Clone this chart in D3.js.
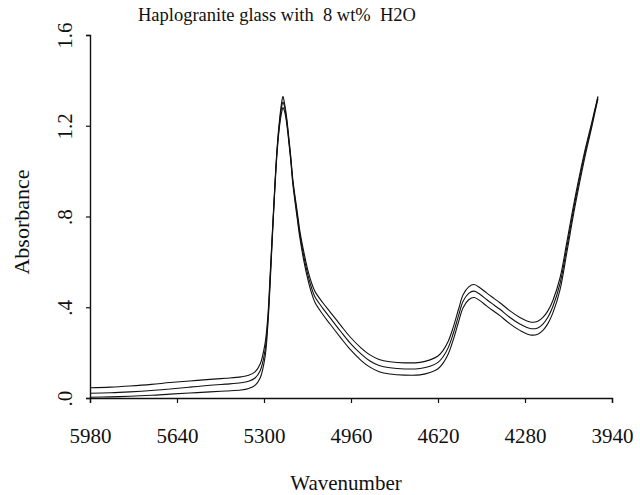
<!DOCTYPE html>
<html>
<head>
<meta charset="utf-8">
<script src="https://cdn.jsdelivr.net/npm/d3@7"></script>
<style>
  html, body { margin: 0; padding: 0; background: #fff; }
  svg { display: block; }
  svg text { font-family: "Liberation Serif", "DejaVu Serif", serif; fill: #111; }
</style>
</head>
<body>
<svg id="chart" width="640" height="495"></svg>
<script>
const wavenumbers = [5980, 5900, 5824, 5740, 5667, 5590, 5511, 5450, 5390, 5360, 5335, 5315, 5296, 5285, 5277, 5265, 5249, 5238, 5230, 5226, 5220, 5212, 5206, 5195, 5187, 5170, 5159, 5140, 5128, 5115, 5101, 5070, 5042, 5000, 4964, 4920, 4886, 4850, 4808, 4750, 4690, 4651, 4620, 4600, 4580, 4561, 4540, 4522, 4500, 4479, 4455, 4429, 4400, 4378, 4340, 4300, 4260, 4230, 4210, 4190, 4171, 4143, 4116, 4085, 4046, 4020, 3995];

const absorbanceTop = [0.045, 0.048, 0.053, 0.060, 0.068, 0.075, 0.082, 0.087, 0.093, 0.100, 0.115, 0.150, 0.240, 0.360, 0.520, 0.780, 1.100, 1.240, 1.310, 1.330, 1.300, 1.240, 1.180, 1.060, 0.960, 0.820, 0.730, 0.620, 0.560, 0.510, 0.470, 0.420, 0.380, 0.320, 0.270, 0.220, 0.190, 0.170, 0.160, 0.155, 0.157, 0.168, 0.185, 0.210, 0.250, 0.310, 0.390, 0.455, 0.490, 0.500, 0.485, 0.462, 0.438, 0.420, 0.385, 0.355, 0.335, 0.338, 0.355, 0.385, 0.430, 0.530, 0.690, 0.880, 1.090, 1.210, 1.330];

const absorbanceMid = [0.021, 0.023, 0.027, 0.033, 0.040, 0.048, 0.056, 0.061, 0.067, 0.074, 0.088, 0.120, 0.210, 0.340, 0.500, 0.770, 1.090, 1.225, 1.290, 1.305, 1.285, 1.230, 1.170, 1.050, 0.950, 0.805, 0.715, 0.600, 0.540, 0.488, 0.446, 0.395, 0.354, 0.293, 0.243, 0.193, 0.163, 0.143, 0.133, 0.128, 0.130, 0.140, 0.157, 0.182, 0.222, 0.282, 0.362, 0.426, 0.461, 0.471, 0.456, 0.433, 0.409, 0.391, 0.356, 0.326, 0.306, 0.309, 0.326, 0.357, 0.403, 0.505, 0.668, 0.862, 1.077, 1.200, 1.325];

const absorbanceBottom = [0.003, 0.005, 0.008, 0.012, 0.017, 0.022, 0.027, 0.031, 0.035, 0.042, 0.056, 0.088, 0.180, 0.320, 0.480, 0.760, 1.080, 1.210, 1.265, 1.280, 1.265, 1.215, 1.160, 1.040, 0.940, 0.790, 0.700, 0.580, 0.520, 0.466, 0.422, 0.368, 0.326, 0.265, 0.215, 0.165, 0.136, 0.116, 0.106, 0.101, 0.102, 0.112, 0.129, 0.154, 0.194, 0.254, 0.334, 0.398, 0.433, 0.443, 0.428, 0.405, 0.381, 0.363, 0.328, 0.298, 0.278, 0.281, 0.298, 0.329, 0.375, 0.478, 0.645, 0.842, 1.062, 1.190, 1.318];

const xTicks = [5980, 5640, 5300, 4960, 4620, 4280, 3940];
const yTicks = [0, 0.4, 0.8, 1.2, 1.6];
const yTickLabels = [".0", ".4", ".8", "1.2", "1.6"];

const titleText = "Haplogranite glass with\u00A0 8 wt%\u00A0 H2O";
const xLabel = "Wavenumber";
const yLabel = "Absorbance";

const FONT = "Liberation Serif, DejaVu Serif, serif";
const svg = d3.select("#chart");
const x = d3.scaleLinear().domain([5980, 3940]).range([90, 612]);
const y = d3.scaleLinear().domain([0, 1.6]).range([398, 35]);

// axes
const xAxis = d3.axisBottom(x).tickValues(xTicks).tickSize(5).tickPadding(25).tickFormat(d3.format("d"));
const gx = svg.append("g").attr("transform", `translate(0,${y(0)})`)
  .call(xAxis).attr("font-family", FONT).attr("font-size", 21);
gx.select(".domain").attr("stroke", "#111").attr("stroke-width", 1.4);
gx.selectAll(".tick line").attr("stroke", "#111").attr("stroke-width", 1.2);
gx.selectAll(".tick text").attr("fill", "#111");

const yAxis = d3.axisLeft(y).tickValues(yTicks).tickSize(4).tickFormat((d, i) => yTickLabels[i]);
const gy = svg.append("g").attr("transform", `translate(${x(5980)},0)`)
  .call(yAxis).attr("font-family", FONT).attr("font-size", 21);
gy.select(".domain").attr("stroke", "#111").attr("stroke-width", 1.4);
gy.selectAll(".tick line").attr("stroke", "#111").attr("stroke-width", 1.2);
gy.selectAll(".tick text")
  .attr("x", null).attr("dy", null)
  .attr("text-anchor", "middle")
  .attr("transform", "translate(-18,0) rotate(-90)")
  .attr("fill", "#111");

// curves
const series = [absorbanceTop, absorbanceMid, absorbanceBottom];
const line = d3.line().x(d => x(d[0])).y(d => y(d[1])).curve(d3.curveCatmullRom.alpha(0.5));
series.forEach(vals => {
  svg.append("path")
    .datum(wavenumbers.map((w, i) => [w, vals[i]]))
    .attr("fill", "none")
    .attr("stroke", "#111")
    .attr("stroke-width", 1.1)
    .attr("d", line);
});

// texts
svg.append("text").attr("x", 277).attr("y", 21).attr("text-anchor", "middle")
  .attr("font-family", FONT).attr("font-size", 18.5).text(titleText);
svg.append("text").attr("x", 346).attr("y", 490).attr("text-anchor", "middle")
  .attr("font-family", FONT).attr("font-size", 21).text(xLabel);
svg.append("text").attr("transform", "translate(29,222) rotate(-90)").attr("text-anchor", "middle")
  .attr("font-family", FONT).attr("font-size", 22).text(yLabel);
</script>
</body>
</html>
